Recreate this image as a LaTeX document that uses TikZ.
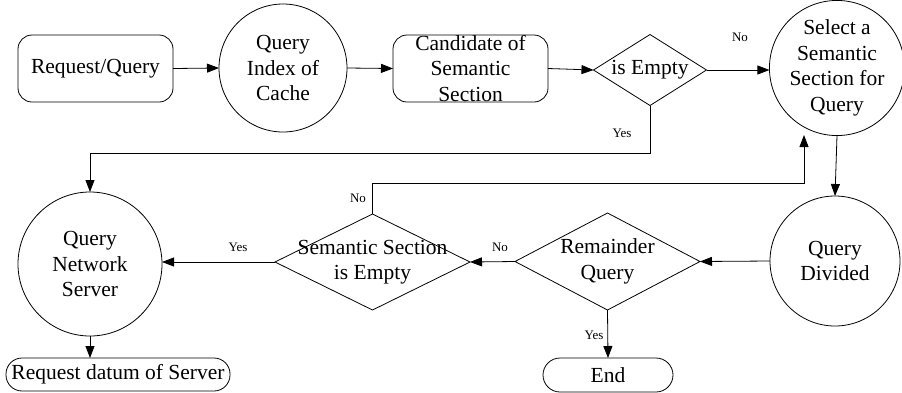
\documentclass[tikz,border=0pt]{standalone}
\usepackage{fontspec}
\setmainfont{Liberation Serif}
\usetikzlibrary{arrows.meta,shapes.geometric}

\begin{document}
\begin{tikzpicture}[x=1pt,y=-1pt,
  line width=0.8pt,
  every node/.style={inner sep=0pt, outer sep=0pt},
  big/.style={font=\fontsize{21.5}{25.5}\selectfont, align=center},
  small/.style={font=\fontsize{13}{15}\selectfont},
  rbox/.style={draw, rectangle, rounded corners=14pt},
  circ/.style={draw, circle, big},
  dia/.style={draw, diamond},
  arr/.style={-{Triangle[length=12pt,width=9pt]}}
]
\useasboundingbox (0,0) rectangle (902,392);

% top row
\node[rbox, minimum width=155pt, minimum height=67pt, big] (rq) at (95.5,68.5) {Request/Query};
\node[circ, minimum size=128pt] (qic) at (283,68) {Query\\Index of\\Cache};
\node[rbox, minimum width=155pt, minimum height=67pt,
      label={[big]center:Candidate of\\Semantic\\Section}] (cand) at (470.5,68.5) {};
\node[dia, minimum width=113pt, minimum height=71pt,
      label={[big]center:is Empty}] (ise) at (650,70) {};
\node[circ, minimum size=128pt] (sel) at (837,68) {Select a\\Semantic\\Section for\\Query};

% bottom row
\node[circ, minimum size=130pt] (qd) at (835,261) {Query\\Divided};
\node[dia, minimum width=185pt, minimum height=97pt,
      label={[big]center:Remainder\\Query}] (rem) at (607.5,261.5) {};
\node[dia, minimum width=195pt, minimum height=96pt,
      label={[big]center:Semantic Section\\is Empty}] (sse) at (372.5,262) {};
\node[circ, minimum size=144pt] (qns) at (90,264) {Query\\Network\\Server};
\node[rbox, rounded corners=16pt, minimum width=224pt, minimum height=33pt, big] (rds) at (118,374.5) {Request datum of Server};
\node[rbox, rounded corners=17pt, minimum width=130pt, minimum height=34pt, big] (endn) at (608,375) {End};

\coordinate (selin) at (804,135);

% connectors
\draw[arr] (rq.east) -- (qic.west);
\draw[arr] (qic.east) -- (cand.west);
\draw[arr] (cand.east) -- (ise.west);
\draw[arr] (ise.east) -- (ise.east -| sel.west);
\node[small] (lno1) at (740,37) {No};
\draw[arr] (ise.south) -- (ise.south |- 0,153) -| (qns.north);
\node[small] (lyes1) at (622,133) {Yes};
\draw[arr] (sse.north) -- (sse.north |- 0,183) -| (selin);
\node[small] (lno2) at (358,198) {No};
\draw[arr] (sel.south) -- (qd.north);
\draw[arr] (qd.west) -- (rem.east);
\draw[arr] (rem.west) -- (sse.east);
\node[small] (lno3) at (500,247) {No};
\draw[arr] (rem.south) -- (endn.north);
\node[small] (lyes2) at (594,335) {Yes};
\draw[arr] (sse.west) -- (sse.west -| qns.east);
\node[small] (lyes3) at (238,247) {Yes};
\draw[arr] (qns.south) -- (qns.south |- rds.north);
\end{tikzpicture}
\end{document}
